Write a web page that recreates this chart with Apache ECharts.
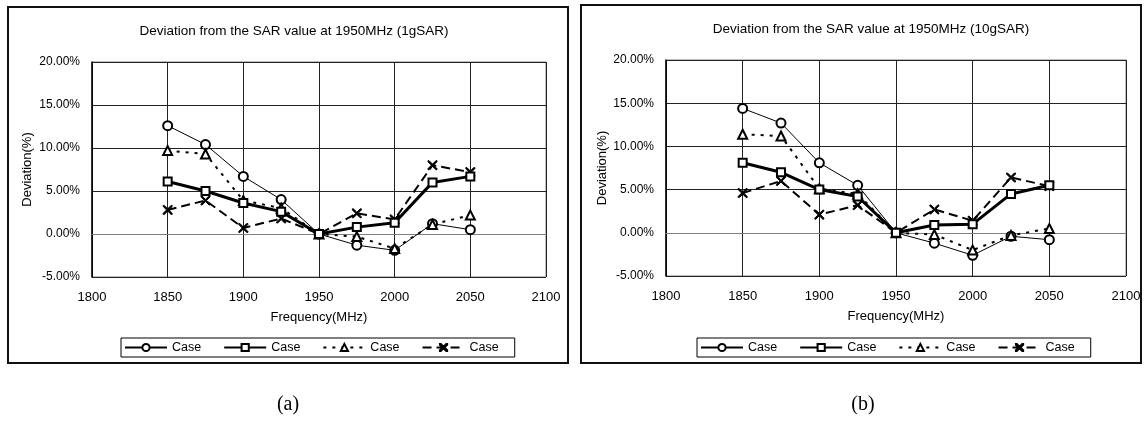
<!DOCTYPE html>
<html>
<head>
<meta charset="utf-8">
<script src="https://cdn.jsdelivr.net/npm/echarts@6/dist/echarts.min.js"></script>
<style>
html,body{margin:0;padding:0;background:#fff;}
#chart{width:1146px;height:421px;}
</style>
</head>
<body>
<div id="chart"></div>
<script>
// ---- data ----
const freqs = [1850, 1875, 1900, 1925, 1950, 1975, 2000, 2025, 2050];
const xTickRange = [1800, 2100, 50];   // min, max, interval (MHz)
const yTickRange = [-5, 20, 5];        // min, max, interval (%)
const seriesNames = ['Case', 'Case', 'Case', 'Case'];

const circle1g   = [12.6, 10.4, 6.7, 4.0, 0, -1.3, -1.9, 1.2, 0.5];
const square1g   = [6.1, 5.0, 3.6, 2.6, 0, 0.8, 1.3, 6.0, 6.7];
const triangle1g = [9.7, 9.3, 3.9, 3.0, 0, -0.3, -1.7, 1.1, 2.2];
const cross1g    = [2.8, 3.9, 0.7, 1.8, 0, 2.4, 1.7, 8.0, 7.2];

const circle10g   = [14.4, 12.7, 8.1, 5.5, 0, -1.2, -2.6, -0.4, -0.8];
const square10g   = [8.1, 7.0, 5.0, 4.2, 0, 0.9, 1.0, 4.5, 5.5];
const triangle10g = [11.4, 11.2, 5.1, 4.5, 0, -0.2, -2.0, -0.3, 0.5];
const cross10g    = [4.6, 6.0, 2.1, 3.2, 0, 2.7, 1.4, 6.4, 5.4];

const titles = ['Deviation from the SAR value at 1950MHz (1gSAR)', 'Deviation from the SAR value at 1950MHz (10gSAR)'];
const panelLabels = ['(a)', '(b)'];
const xName = 'Frequency(MHz)';
const yName = 'Deviation(%)';

// ---- chart ----
const FONT = '"Liberation Sans", Arial, sans-serif';
const crossPath = 'path://M0,0L1.2,0L5,3.8L8.8,0L10,0L10,1.2L6.2,5L10,8.8L10,10L8.8,10L5,6.2L1.2,10L0,10L0,8.8L3.8,5L0,1.2Z';
const keys = ['s0', 's1', 's2', 's3'];
const styles = [
  { symbol: 'emptyCircle', symbolSize: 9, lineStyle: { width: 1, type: 'solid' } },
  { symbol: 'emptyRect', symbolSize: 8, lineStyle: { width: 3, type: 'solid' } },
  { symbol: 'emptyTriangle', symbolSize: 9, lineStyle: { width: 2, type: [3, 6] } },
  { symbol: crossPath, symbolSize: 9, lineStyle: { width: 2, type: [9, 5] } }
];

const grids = [
  { left: 92, top: 62, width: 454, height: 215 },
  { left: 666, top: 60, width: 460, height: 216 }
];
const titlePos = [{ x: 289, y: 27 }, { x: 866, y: 25 }];
const yNameGap = [58, 57];
const legendLeft = [121, 697];
const boxes = [
  { x: 8, y: 7, width: 560, height: 356 },
  { x: 581, y: 5, width: 560, height: 358 }
];
const labelX = [288, 863];

const allData = [
  [circle1g, square1g, triangle1g, cross1g],
  [circle10g, square10g, triangle10g, cross10g]
];

const option = {
  backgroundColor: '#fff',
  animation: false,
  title: titles.map((t, i) => ({
    text: t, left: titlePos[i].x, top: titlePos[i].y - 8, textAlign: 'center',
    textStyle: { fontSize: 13.5, fontWeight: 'normal', color: '#000', fontFamily: FONT }
  })),
  legend: [0, 1].map(i => ({
    left: legendLeft[i], top: 338,
    orient: 'horizontal',
    data: keys,
    formatter: (name) => seriesNames[keys.indexOf(name)],
    itemWidth: 42, itemHeight: 9, itemGap: 22,
    padding: [3, 16, 3, 3],
    borderColor: '#000', borderWidth: 1,
    selectedMode: false,
    textStyle: { fontSize: 12.5, color: '#000', fontFamily: FONT }
  })),
  grid: grids.map(g => Object.assign({ show: true, borderColor: '#808080', borderWidth: 1, backgroundColor: '#fff' }, g)),
  xAxis: [0, 1].map(i => ({
    type: 'value', gridIndex: i,
    min: xTickRange[0], max: xTickRange[1], interval: xTickRange[2],
    name: xName, nameLocation: 'middle', nameGap: 34,
    nameTextStyle: { fontSize: 13, color: '#000', fontFamily: FONT },
    axisLine: { show: true, lineStyle: { color: '#808080', width: 1 } },
    axisTick: { show: false },
    axisLabel: { margin: 14, fontSize: 13, color: '#000', fontFamily: FONT,
      formatter: v => String(v) },
    splitLine: { show: true, lineStyle: { color: '#222', width: 1 } }
  })),
  yAxis: [0, 1].map(i => ({
    type: 'value', gridIndex: i,
    min: yTickRange[0], max: yTickRange[1], interval: yTickRange[2],
    name: yName, nameLocation: 'middle', nameGap: yNameGap[i],
    nameTextStyle: { fontSize: 13, color: '#000', fontFamily: FONT },
    axisLine: { show: true, lineStyle: { color: '#000', width: 1.5 } },
    axisTick: { show: false },
    axisLabel: { margin: 12, fontSize: 12, color: '#000', fontFamily: FONT,
      formatter: v => v.toFixed(2) + '%' },
    splitLine: { show: true, lineStyle: { color: '#222', width: 1 } }
  })),
  series: [],
  graphic: []
};

[0, 1].forEach(i => {
  allData[i].forEach((vals, k) => {
    option.series.push({
      type: 'line', name: keys[k], xAxisIndex: i, yAxisIndex: i,
      data: freqs.map((f, j) => [f, vals[j]]),
      symbol: styles[k].symbol, symbolSize: styles[k].symbolSize,
      showAllSymbol: true,
      color: '#000',
      itemStyle: { color: '#000', borderColor: '#000', borderWidth: 1 },
      lineStyle: Object.assign({ color: '#000' }, styles[k].lineStyle),
      z: 2 + (k === 1 ? 1 : 0)
    });
  });
  option.graphic.push({
    type: 'rect', shape: boxes[i], z: -1, silent: true,
    style: { fill: 'none', stroke: '#111', lineWidth: 2 }
  });
  option.graphic.push({
    type: 'text', x: labelX[i], y: 405, silent: true,
    style: { text: panelLabels[i], fontSize: 20, fontFamily: '"Liberation Serif", "Times New Roman", serif',
      fill: '#000', align: 'center', verticalAlign: 'middle' }
  });
});

const chart = echarts.init(document.getElementById('chart'), null, { renderer: 'canvas' });
chart.setOption(option);
</script>
</body>
</html>
